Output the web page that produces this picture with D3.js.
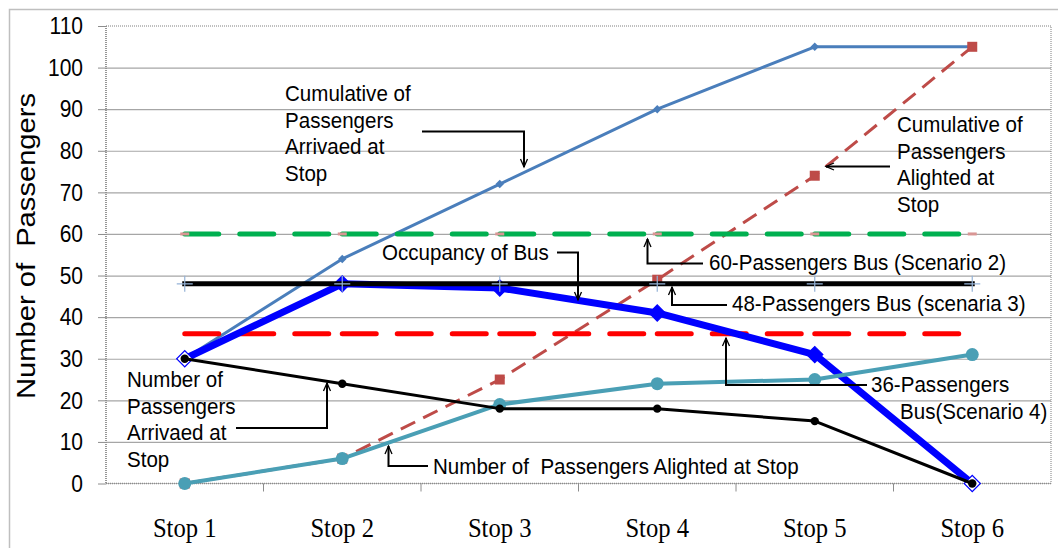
<!DOCTYPE html>
<html><head><meta charset="utf-8">
<script src="https://cdn.jsdelivr.net/npm/d3@7"></script>
<style>
html,body{margin:0;padding:0;background:#fff;}
svg{display:block;}
</style></head>
<body>
<svg id="chart" width="1058" height="548"></svg>
<script>
// ---------- data ----------
const categories = ["Stop 1","Stop 2","Stop 3","Stop 4","Stop 5","Stop 6"];
const cumulativeArrived  = [30, 54, 72, 90, 105, 105];
const cumulativeAlighted = [0, 6, 25, 49, 74, 105];
const occupancy          = [30, 48, 47, 41, 31, 0];
const numberArrived      = [30, 24, 18, 18, 15, 0];
const numberAlighted     = [0, 6, 19, 24, 25, 31];
const bus60 = [60, 60, 60, 60, 60, 60];
const bus48 = [48, 48, 48, 48, 48, 48];
const bus36 = [36, 36, 36, 36, 36, 36];
const yTicks = [0,10,20,30,40,50,60,70,80,90,100,110];
const yTitle = "Number of  Passengers";

// ---------- layout ----------
const svg = d3.select("#chart");
const L = 106, R = 1051, T = 26, B = 483.5;
const x = d3.scaleBand().domain(categories).range([L, R]);
const y = d3.scaleLinear().domain([0, 110]).range([B, T]);
const cx = d => x(d) + x.bandwidth() / 2;
const sans = "'Liberation Sans', Arial, sans-serif";
const serif = "'Liberation Serif', 'Times New Roman', serif";

// outer frame
svg.append("rect").attr("x", 9.5).attr("y", 9.5).attr("width", 1070).attr("height", 560)
  .attr("fill", "none").attr("stroke", "#bfbfbf").attr("stroke-width", 1.5);

// gridlines
const grid = svg.append("g").attr("transform", `translate(${L},0)`)
  .call(d3.axisLeft(y).tickValues(yTicks.filter(v => v > 0 && v < 110)).tickSize(-(R - L)).tickFormat(""));
grid.select(".domain").remove();
grid.selectAll("line").attr("stroke", "#a6a6a6").attr("stroke-width", 1.2);

// plot border (dotted)
svg.append("rect").attr("x", L).attr("y", T).attr("width", R - L).attr("height", B - T)
  .attr("fill", "none").attr("stroke", "#7f7f7f").attr("stroke-width", 1).attr("stroke-dasharray", "1,1");
svg.append("line").attr("x1", L).attr("x2", L).attr("y1", T).attr("y2", B)
  .attr("stroke", "#8c8c8c").attr("stroke-width", 1.6).attr("stroke-dasharray", "1,1");
svg.append("line").attr("x1", L).attr("x2", R).attr("y1", B).attr("y2", B)
  .attr("stroke", "#8c8c8c").attr("stroke-width", 1.6).attr("stroke-dasharray", "1,1");

// y axis
const ya = svg.append("g").attr("transform", `translate(${L},0)`)
  .call(d3.axisLeft(y).tickValues(yTicks).tickSize(8).tickPadding(16));
ya.select(".domain").remove();
ya.selectAll("line").attr("stroke", "#8c8c8c");
ya.selectAll("text").attr("font-family", sans).attr("font-size", 24).attr("fill", "#000")
  .attr("x", 0).attr("transform", "translate(-23,0) scale(0.875,1)");

// x axis
const xa = svg.append("g").attr("transform", `translate(0,${B})`)
  .call(d3.axisBottom(x).tickSize(0));
xa.select(".domain").remove();
xa.selectAll("text").attr("font-family", serif).attr("font-size", 28).attr("fill", "#000")
  .attr("y", 0).attr("dy", null).attr("transform", "translate(0,53.5) scale(0.88,1)");
svg.append("g").selectAll("line").data(categories.slice(1)).join("line")
  .attr("x1", d => x(d)).attr("x2", d => x(d)).attr("y1", B).attr("y2", B + 8)
  .attr("stroke", "#8c8c8c").attr("stroke-width", 1);

// y title
svg.append("text").attr("transform", `translate(35,246) rotate(-90) scale(1,0.87)`)
  .attr("text-anchor", "middle").attr("font-family", sans).attr("font-size", 29)
  .attr("textLength", 306).attr("lengthAdjust", "spacingAndGlyphs")
  .attr("xml:space", "preserve").style("white-space", "pre")
  .text(yTitle);

// helpers
const pts = arr => arr.map((v, i) => [cx(categories[i]), y(v)]);
const line = d3.line();
function series(arr, color, width, dash) {
  svg.append("path").attr("d", line(pts(arr))).attr("fill", "none")
    .attr("stroke", color).attr("stroke-width", width)
    .attr("stroke-linejoin", "round")
    .attr("stroke-dasharray", dash || null);
}
function dashedSegments(arr, color, width) {
  const p = pts(arr);
  svg.append("g").selectAll("line").data(d3.pairs(p)).join("line")
    .attr("x1", d => d[0][0]).attr("y1", d => d[0][1])
    .attr("x2", d => d[1][0]).attr("y2", d => d[1][1])
    .attr("stroke", color).attr("stroke-width", width)
    .attr("stroke-linecap", "round").attr("stroke-dasharray", "34 21");
}

// cumulative arrived (thin blue)
series(cumulativeArrived, "#4a7ebb", 3);
svg.append("g").selectAll("path").data(pts(cumulativeArrived)).join("path")
  .attr("d", d3.symbol(d3.symbolSquare, 36)())
  .attr("transform", d => `translate(${d[0]},${d[1]}) rotate(45)`).attr("fill", "#4a7ebb");

// cumulative alighted (brown dashed)
series(cumulativeAlighted, "#be4b48", 3, "16 9");
svg.append("g").selectAll("rect").data(pts(cumulativeAlighted)).join("rect")
  .attr("x", d => d[0] - 5).attr("y", d => d[1] - 5).attr("width", 10).attr("height", 10)
  .attr("fill", "#be4b48");

// 60 bus (green dashed)
dashedSegments(bus60, "#00b050", 5);
svg.append("g").selectAll("rect").data(pts(bus60)).join("rect")
  .attr("x", d => d[0] - 4.5).attr("y", d => d[1] - 1.5).attr("width", 9).attr("height", 3)
  .attr("fill", "#d99694");

// 36 bus (red dashed)
dashedSegments(bus36, "#ff0000", 5);

// occupancy (thick blue)
series(occupancy, "#0000ff", 7);
svg.append("g").selectAll("path").data(pts(occupancy)).join("path")
  .attr("d", d3.symbol(d3.symbolSquare, 130)())
  .attr("transform", d => `translate(${d[0]},${d[1]}) rotate(45)`)
  .attr("fill", (d, i) => (i === 0 || i === occupancy.length - 1) ? "#fff" : "#0000ff")
  .attr("stroke", "#0000ff").attr("stroke-width", 1.2);

// 48 bus (black solid)
const p48 = pts(bus48);
svg.append("path").attr("d", line(p48)).attr("fill", "none").attr("stroke", "#000")
  .attr("stroke-width", 5).attr("stroke-linecap", "square");
svg.append("g").selectAll("path").data(p48).join("path")
  .attr("d", d => `M${d[0] - 8},${d[1]}H${d[0] + 8}M${d[0]},${d[1] - 8}V${d[1] + 8}`)
  .attr("stroke", "#95b3d7").attr("stroke-width", 1.2);

// number alighted (teal)
series(numberAlighted, "#4a9fb5", 4);
svg.append("g").selectAll("circle").data(pts(numberAlighted)).join("circle")
  .attr("cx", d => d[0]).attr("cy", d => d[1]).attr("r", 6.5).attr("fill", "#4a9fb5");

// number arrived (black)
series(numberArrived, "#000", 3);
svg.append("g").selectAll("circle").data(pts(numberArrived)).join("circle")
  .attr("cx", d => d[0]).attr("cy", d => d[1]).attr("r", 4.2).attr("fill", "#000");

// ---------- annotations ----------
svg.append("defs").append("marker").attr("id", "arr")
  .attr("viewBox", "-10 -5 12 10").attr("refX", 0).attr("refY", 0)
  .attr("markerWidth", 12).attr("markerHeight", 10).attr("markerUnits", "userSpaceOnUse")
  .attr("orient", "auto")
  .append("path").attr("d", "M-8,-3.5L0,0L-8,3.5").attr("fill", "none").attr("stroke", "#000").attr("stroke-width", 1.3);

const annotations = [
  { lines: ["Cumulative of", "Passengers", "Arrivaed at", "Stop"], x: 285, y: 101, path: [[422,131.5],[524,131.5],[524,167]] },
  { lines: ["Cumulative of", "Passengers", "Alighted at", "Stop"], x: 897, y: 132, path: [[890,166.5],[826,166.5]] },
  { lines: ["Occupancy of Bus"], x: 382, y: 260, path: [[557,252.5],[578,252.5],[578,300]] },
  { lines: ["60-Passengers Bus (Scenario 2)"], x: 709, y: 270, path: [[703,263.5],[647.5,263.5],[647.5,239]] },
  { lines: ["48-Passengers Bus (scenaria 3)"], x: 732, y: 311, path: [[727,305],[672,305],[672,287]] },
  { lines: ["36-Passengers"], x: 871, y: 392, path: [[867,385],[726,385],[726,338]] },
  { lines: ["Bus(Scenario 4)"], x: 900, y: 418.5, path: null },
  { lines: ["Number of", "Passengers", "Arrivaed at", "Stop"], x: 127, y: 387, path: [[236,428],[327,428],[327,383]] },
  { lines: ["Number of  Passengers Alighted at Stop"], x: 433, y: 473.5, path: [[428,466],[388.5,466],[388.5,446]] }
];
const ag = svg.append("g");
annotations.forEach(a => {
  const t = ag.append("text").attr("font-family", sans).attr("font-size", 22).attr("fill", "#000")
    .attr("transform", `translate(${a.x},${a.y}) scale(0.935,1)`)
    .attr("xml:space", "preserve").style("white-space", "pre");
  a.lines.forEach((s, i) => t.append("tspan").attr("x", 0).attr("y", i * 26.6).text(s));
  if (a.path) {
    ag.append("path").attr("d", d3.line()(a.path)).attr("fill", "none")
      .attr("stroke", "#000").attr("stroke-width", 2).attr("marker-end", "url(#arr)");
  }
});
</script>
</body></html>
